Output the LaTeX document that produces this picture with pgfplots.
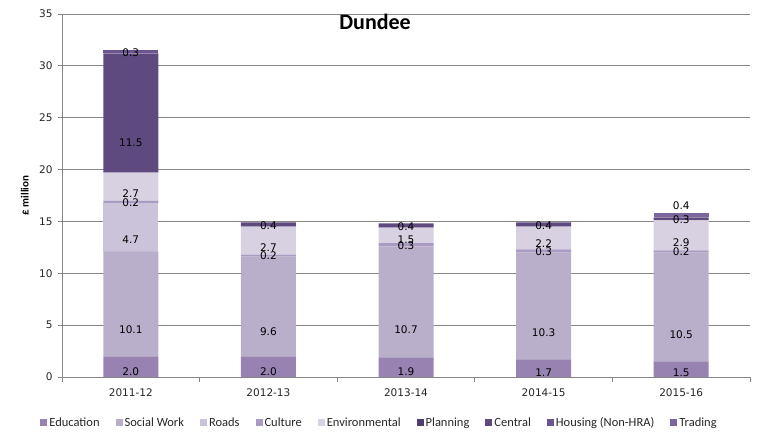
\documentclass[border=0pt]{standalone}
\usepackage{pgfplots}
\pgfplotsset{compat=1.18}
\usepackage{pgfplotstable}
\usepackage{fontspec}
\setmainfont{Carlito}
\newfontfamily\tah{DejaVu Sans}
\definecolor{cEdu}{HTML}{9882B2}
\definecolor{cSW}{HTML}{B9AFCB}
\definecolor{cRoads}{HTML}{CBC3DA}
\definecolor{cCult}{HTML}{A99BC2}
\definecolor{cEnv}{HTML}{D8D1E2}
\definecolor{cPlan}{HTML}{4F3D6E}
\definecolor{cCent}{HTML}{5E4A7E}
\definecolor{cHous}{HTML}{6A5590}
\definecolor{cTrad}{HTML}{7B66A0}
\definecolor{gridgray}{HTML}{868686}
\pgfplotstableread{
x edu sw roads cult env plan cent hous trad
0 2.0 10.1 4.7 0.2 2.7 0 11.5 0.3 0
1 2.0 9.6 0 0.2 2.7 0 0.4 0 0
2 1.9 10.7 0 0.3 1.5 0 0.4 0 0
3 1.7 10.3 0 0.3 2.2 0 0.4 0 0
4 1.5 10.5 0 0.2 2.9 0 0.3 0 0.4
}\datatable
\pgfplotsset{
  centerlabel/.style={
    every node near coord/.append style={
      anchor=center,
      /pgfplots/calcoff/.code={
        \pgfkeys{/pgf/fpu=true,/pgf/fpu/output format=fixed}
        \pgfmathsetmacro\myoff{\pgfplotspointmeta*363/140}
        \pgfkeys{/pgf/fpu=false}
      },
      /pgfplots/calcoff,
      yshift=-\myoff pt
    }
  }
}
\begin{document}
\begin{tikzpicture}
\begin{axis}[
  name=ax,
  scale only axis, width=688pt, height=363pt,
  ybar stacked, bar width=55pt,
  xmin=-0.5, xmax=4.5, ymin=0, ymax=35,
  xtick={0,...,4},
  xticklabels={2011-12,2012-13,2013-14,2014-15,2015-16},
  major x tick style={draw=none},
  minor xtick={-0.5,0.5,...,4.5},
  ytick={0,5,...,35},
  ymajorgrids,
  grid style={color=gridgray, line width=0.7pt},
  axis x line*=bottom, axis y line*=left,
  axis line style={-, gridgray, line width=0.7pt},
  tick style={gridgray, line width=0.7pt},
  tick align=outside, major tick length=4pt, minor tick length=5pt,
  /pgf/number format/assume math mode=true,
  ticklabel style={font=\tah\fontsize{10.5}{12}\selectfont, text=black!85},
  xticklabel style={yshift=-4pt},
  yticklabel style={xshift=-2pt},
  ylabel={£ million},
  ylabel style={at={(axis description cs:-0.054,0.5)}, anchor=center, font=\bfseries\fontsize{11}{13}\selectfont},
  title={Dundee},
  title style={at={(axis description cs:0.455,0.961)}, anchor=center, font=\bfseries\fontsize{22}{25}\selectfont},
  legend style={at={(axis description cs:0.4615,-0.1267)}, anchor=center, draw=none, fill=none,
    legend columns=9, font=\fontsize{12.5}{14}\selectfont, text=black!85,
    /tikz/every even column/.append style={column sep=14pt},
    /tikz/every odd column/.append style={column sep=0pt}},
  legend image code/.code={\fill[#1] (0pt,-3.5pt) rectangle (7pt,3.5pt);},
  nodes near coords={\pgfmathfloatifflags{\pgfplotspointmeta}{0}{}{\pgfmathprintnumber[fixed,fixed zerofill,precision=1]{\pgfplotspointmeta}}},
  every node near coord/.append style={font=\tah\fontsize{10.5}{12}\selectfont, text=black, inner sep=1pt},
  centerlabel,
]
\addplot[fill=cEdu, draw=none] table[x=x,y=edu]{\datatable};
\addlegendentry{Education}
\addplot[fill=cSW, draw=none] table[x=x,y=sw]{\datatable};
\addlegendentry{Social Work}
\addplot[fill=cRoads, draw=none] table[x=x,y=roads]{\datatable};
\addlegendentry{Roads}
\addplot[fill=cCult, draw=none] table[x=x,y=cult]{\datatable};
\addlegendentry{Culture}
\addplot[fill=cEnv, draw=none] table[x=x,y=env]{\datatable};
\addlegendentry{Environmental}
\addplot[fill=cPlan, draw=none] table[x=x,y=plan]{\datatable};
\addlegendentry{Planning}
\addplot[fill=cCent, draw=none] table[x=x,y=cent]{\datatable};
\addlegendentry{Central}
\addplot[fill=cHous, draw=none] table[x=x,y=hous]{\datatable};
\addlegendentry{Housing (Non-HRA)}
\addplot[fill=cTrad, draw=none, every node near coord/.append style={yshift=11pt}] table[x=x,y=trad]{\datatable};
\addlegendentry{Trading}
\end{axis}
\path ([shift={(-62pt,-66pt)}]ax.south west) rectangle ([shift={(9pt,14pt)}]ax.north east);
\end{tikzpicture}
\end{document}
